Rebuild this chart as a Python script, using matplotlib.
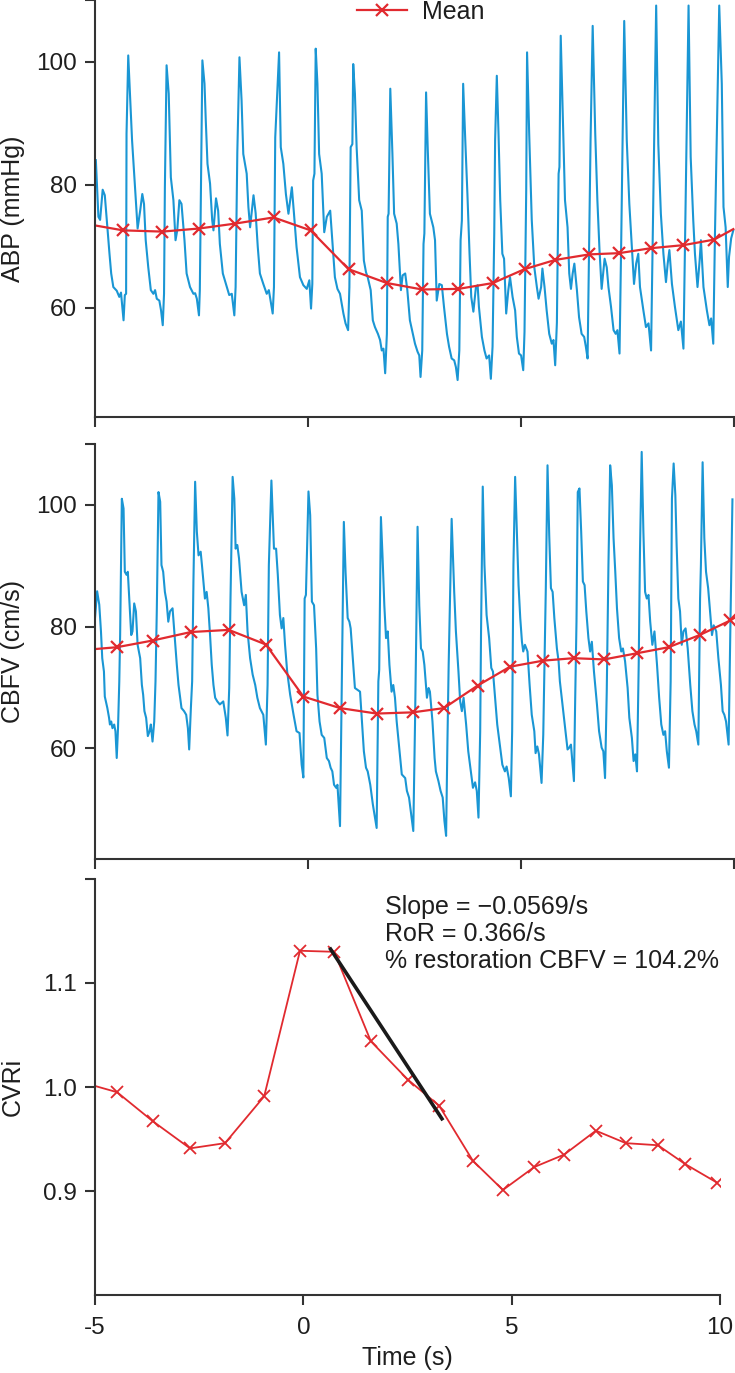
import numpy as np
import matplotlib.pyplot as plt

plt.rcParams['font.family'] = ['Liberation Sans', 'DejaVu Sans']

# ---------------------------------------------------------------------------
# data (time in s)
# ---------------------------------------------------------------------------

abp_t = [-4.98, -4.92, -4.88, -4.82, -4.77, -4.71, -4.66, -4.62, -4.57, -4.49, -4.43, -4.39,
         -4.33, -4.30, -4.27, -4.26, -4.22, -4.18, -4.13, -4.08, -4.04, -4.00, -3.94, -3.89,
         -3.85, -3.81, -3.75, -3.69, -3.63, -3.59, -3.55, -3.49, -3.45, -3.41, -3.38, -3.36,
         -3.32, -3.27, -3.25, -3.22, -3.16, -3.11, -3.07, -3.02, -2.97, -2.90, -2.85, -2.77,
         -2.69, -2.65, -2.61, -2.56, -2.54, -2.51, -2.48, -2.43, -2.40, -2.36, -2.30, -2.25,
         -2.22, -2.16, -2.11, -2.07, -2.00, -1.92, -1.85, -1.79, -1.73, -1.70, -1.66, -1.61,
         -1.56, -1.52, -1.44, -1.40, -1.36, -1.28, -1.23, -1.18, -1.13, -1.05, -0.97, -0.92,
         -0.88, -0.83, -0.80, -0.77, -0.73, -0.68, -0.64, -0.58, -0.52, -0.46, -0.38, -0.33,
         -0.27, -0.19, -0.11, -0.03, 0.03, 0.07, 0.10, 0.12, 0.15, 0.18, 0.22, 0.26,
         0.32, 0.38, 0.44, 0.52, 0.57, 0.63, 0.69, 0.75, 0.83, 0.88, 0.94, 0.97,
         1.00, 1.04, 1.06, 1.10, 1.14, 1.20, 1.26, 1.31, 1.36, 1.40, 1.47, 1.52,
         1.57, 1.64, 1.69, 1.73, 1.77, 1.81, 1.85, 1.87, 1.89, 1.93, 1.98, 2.02,
         2.08, 2.12, 2.18, 2.22, 2.28, 2.33, 2.39, 2.46, 2.51, 2.57, 2.61, 2.64,
         2.68, 2.71, 2.73, 2.77, 2.81, 2.86, 2.94, 2.98, 3.02, 3.08, 3.14, 3.19,
         3.26, 3.31, 3.37, 3.43, 3.47, 3.51, 3.55, 3.58, 3.61, 3.64, 3.69, 3.74,
         3.79, 3.83, 3.88, 3.94, 3.98, 4.01, 4.08, 4.14, 4.19, 4.25, 4.29, 4.33,
         4.37, 4.39, 4.43, 4.47, 4.51, 4.56, 4.60, 4.65, 4.70, 4.74, 4.80, 4.86,
         4.90, 4.95, 5.00, 5.05, 5.08, 5.12, 5.14, 5.19, 5.25, 5.31, 5.37, 5.41,
         5.47, 5.50, 5.55, 5.60, 5.66, 5.72, 5.76, 5.80, 5.84, 5.88, 5.90, 5.93,
         5.98, 6.03, 6.09, 6.13, 6.17, 6.21, 6.25, 6.31, 6.36, 6.42, 6.48, 6.52,
         6.56, 6.60, 6.63, 6.68, 6.74, 6.79, 6.84, 6.89, 6.96, 7.01, 7.05, 7.11,
         7.17, 7.22, 7.26, 7.31, 7.35, 7.38, 7.42, 7.48, 7.54, 7.60, 7.65, 7.70,
         7.75, 7.79, 7.87, 7.93, 7.99, 8.05, 8.09, 8.12, 8.17, 8.22, 8.28, 8.34,
         8.40, 8.44, 8.48, 8.54, 8.61, 8.69, 8.75, 8.81, 8.85, 8.88, 8.93, 8.98,
         9.04, 9.08, 9.14, 9.19, 9.22, 9.28, 9.36, 9.42, 9.46, 9.51, 9.55, 9.59,
         9.65, 9.71, 9.75, 9.80, 9.85, 9.88, 9.93, 9.98]
abp_v = [84.0, 74.8, 74.3, 79.2, 78.3, 73.1, 68.8, 65.6, 63.4, 62.8, 61.8, 62.5,
         58.0, 62.1, 62.3, 88.3, 101.0, 94.8, 87.2, 81.8, 77.5, 72.9, 75.8, 78.5,
         76.9, 71.0, 66.6, 62.9, 62.3, 62.9, 61.5, 61.2, 59.6, 57.2, 62.3, 79.6,
         99.4, 94.8, 89.6, 81.2, 77.5, 71.0, 72.6, 77.5, 76.9, 71.0, 65.6, 63.4,
         62.3, 62.4, 61.5, 58.8, 62.9, 82.1, 100.2, 96.4, 90.4, 83.4, 80.2, 74.3,
         72.6, 77.8, 75.8, 70.4, 65.6, 63.7, 62.1, 62.3, 58.8, 63.4, 85.3, 100.7,
         93.7, 85.0, 81.8, 76.4, 73.1, 78.3, 75.4, 69.9, 65.6, 63.9, 62.3, 62.9,
         61.2, 59.1, 63.4, 87.7, 93.7, 101.5, 86.1, 83.4, 78.5, 75.3, 79.6, 75.3,
         69.9, 65.0, 63.7, 63.1, 64.5, 59.9, 63.9, 80.7, 81.8, 102.1, 96.4, 85.0,
         81.8, 72.3, 74.8, 75.8, 71.0, 65.0, 63.1, 62.3, 59.1, 57.5, 56.4, 63.4,
         86.1, 86.6, 99.6, 94.8, 86.1, 77.5, 75.8, 67.7, 65.8, 65.0, 62.9, 58.0,
         56.9, 55.8, 54.8, 53.1, 53.4, 49.4, 55.8, 74.8, 75.3, 95.6, 85.0, 75.3,
         73.7, 70.4, 62.9, 65.3, 65.6, 62.9, 58.0, 55.8, 54.2, 52.9, 52.3, 48.8,
         53.1, 70.4, 72.1, 95.0, 85.6, 75.3, 73.1, 71.0, 61.2, 63.9, 63.7, 60.2,
         55.8, 53.7, 51.8, 51.5, 50.4, 48.3, 53.1, 71.0, 74.2, 96.4, 87.2, 78.5,
         68.8, 61.8, 59.4, 63.4, 63.7, 60.2, 55.3, 53.1, 51.8, 52.3, 48.5, 53.7,
         72.1, 87.2, 97.7, 88.3, 77.5, 68.8, 68.0, 59.1, 62.9, 65.0, 61.8, 59.6,
         55.3, 52.6, 52.3, 49.9, 56.1, 79.1, 101.5, 88.3, 74.3, 66.6, 63.4, 61.5,
         63.4, 66.4, 63.4, 59.6, 55.8, 54.2, 54.8, 50.7, 57.6, 81.8, 82.9, 104.2,
         91.0, 77.5, 73.1, 65.6, 63.1, 65.6, 67.2, 62.9, 58.5, 55.8, 55.3, 53.7,
         51.8, 72.6, 87.2, 105.8, 88.3, 77.5, 69.4, 63.1, 68.0, 66.6, 63.4, 60.2,
         56.4, 55.8, 56.4, 52.6, 71.0, 86.6, 106.6, 87.2, 76.9, 69.9, 63.9, 67.2,
         68.8, 63.4, 59.6, 56.9, 57.5, 53.1, 72.1, 87.2, 109.1, 86.6, 75.3, 68.8,
         64.2, 67.2, 69.4, 63.9, 60.2, 56.4, 57.8, 53.4, 72.1, 86.1, 109.1, 84.5,
         74.3, 68.8, 63.4, 67.7, 71.0, 63.4, 59.6, 57.2, 58.3, 54.2, 72.1, 86.6,
         109.1, 96.4, 76.4, 73.1, 63.4, 68.3, 71.3, 72.6]

abp_mean_t = [-5.0, -4.34, -3.42, -2.56, -1.71, -0.81, 0.06, 0.95, 1.85, 2.68, 3.53, 4.34,
              5.08, 5.80, 6.60, 7.30, 8.04, 8.81, 9.53, 9.98]
abp_mean_v = [73.4, 72.6, 72.4, 72.9, 73.7, 74.7, 72.6, 66.3, 64.05, 63.0, 63.1, 64.05,
              66.3, 67.8, 68.7, 68.9, 69.7, 70.2, 71.1, 72.8]

cbfv_t = [-5.00, -4.95, -4.90, -4.86, -4.83, -4.79, -4.77, -4.71, -4.67, -4.65, -4.62, -4.59,
          -4.55, -4.52, -4.49, -4.46, -4.43, -4.41, -4.37, -4.33, -4.30, -4.26, -4.23, -4.18,
          -4.15, -4.12, -4.08, -4.04, -4.00, -3.94, -3.90, -3.87, -3.84, -3.80, -3.76, -3.72,
          -3.69, -3.65, -3.61, -3.58, -3.55, -3.51, -3.47, -3.44, -3.40, -3.36, -3.32, -3.28,
          -3.24, -3.18, -3.14, -3.08, -3.04, -3.00, -2.97, -2.91, -2.86, -2.82, -2.79, -2.75,
          -2.72, -2.69, -2.65, -2.61, -2.57, -2.52, -2.49, -2.42, -2.38, -2.34, -2.30, -2.26,
          -2.22, -2.18, -2.13, -2.07, -1.99, -1.93, -1.89, -1.85, -1.82, -1.77, -1.73, -1.70,
          -1.66, -1.62, -1.56, -1.50, -1.46, -1.42, -1.36, -1.30, -1.24, -1.19, -1.13, -1.05,
          -0.99, -0.95, -0.92, -0.86, -0.83, -0.80, -0.75, -0.71, -0.66, -0.62, -0.58, -0.54,
          -0.49, -0.42, -0.34, -0.27, -0.20, -0.15, -0.11, -0.08, -0.05, 0.01, 0.05, 0.09,
          0.14, 0.19, 0.22, 0.27, 0.32, 0.38, 0.44, 0.49, 0.53, 0.57, 0.61, 0.66,
          0.69, 0.75, 0.78, 0.81, 0.84, 0.88, 0.93, 0.97, 1.00, 1.05, 1.10, 1.16,
          1.22, 1.26, 1.31, 1.36, 1.40, 1.46, 1.52, 1.61, 1.65, 1.67, 1.71, 1.75,
          1.79, 1.83, 1.87, 1.91, 1.96, 2.00, 2.04, 2.08, 2.14, 2.20, 2.28, 2.32,
          2.37, 2.42, 2.47, 2.51, 2.54, 2.57, 2.61, 2.65, 2.69, 2.73, 2.79, 2.83,
          2.86, 2.92, 2.97, 3.00, 3.06, 3.11, 3.16, 3.20, 3.24, 3.27, 3.30, 3.37,
          3.43, 3.47, 3.53, 3.57, 3.61, 3.65, 3.71, 3.76, 3.82, 3.87, 3.92, 3.96,
          4.00, 4.04, 4.06, 4.10, 4.14, 4.19, 4.25, 4.30, 4.34, 4.39, 4.44, 4.51,
          4.56, 4.62, 4.66, 4.71, 4.76, 4.79, 4.82, 4.86, 4.90, 4.94, 4.98, 5.02,
          5.05, 5.09, 5.15, 5.20, 5.25, 5.31, 5.34, 5.38, 5.42, 5.48, 5.52, 5.58,
          5.62, 5.66, 5.70, 5.74, 5.78, 5.84, 5.88, 5.91, 5.98, 6.03, 6.09, 6.13,
          6.17, 6.24, 6.27, 6.30, 6.33, 6.37, 6.41, 6.45, 6.49, 6.53, 6.58, 6.62,
          6.66, 6.71, 6.78, 6.83, 6.89, 6.93, 6.97, 7.01, 7.05, 7.09, 7.13, 7.17,
          7.21, 7.25, 7.30, 7.35, 7.39, 7.44, 7.50, 7.54, 7.60, 7.64, 7.68, 7.72,
          7.76, 7.79, 7.83, 7.87, 7.91, 7.95, 7.99, 8.03, 8.08, 8.13, 8.19, 8.24,
          8.29, 8.34, 8.38, 8.42, 8.47, 8.51, 8.54, 8.58, 8.62, 8.65, 8.69, 8.73,
          8.77, 8.81, 8.86, 8.91, 8.97, 9.02, 9.07, 9.11, 9.16, 9.20, 9.22, 9.26,
          9.30, 9.34, 9.39, 9.44, 9.48, 9.52, 9.58, 9.63, 9.69, 9.73, 9.77, 9.81,
          9.87, 9.91, 9.96]
cbfv_v = [81.4, 85.8, 83.6, 79.2, 74.8, 72.6, 68.5, 66.6, 65.0, 63.9, 64.4, 63.3,
          63.9, 62.8, 58.4, 63.3, 71.0, 78.6, 101.0, 99.4, 89.0, 88.5, 89.0, 82.5,
          78.6, 79.2, 83.8, 82.5, 77.0, 74.8, 70.4, 68.8, 66.1, 65.0, 62.0, 62.8,
          63.9, 61.1, 64.4, 71.0, 82.5, 102.1, 100.5, 90.1, 89.0, 85.7, 84.1, 80.8,
          82.5, 83.0, 79.2, 73.7, 70.4, 68.3, 66.6, 66.1, 65.5, 63.3, 59.8, 66.6,
          71.0, 87.4, 103.8, 95.6, 91.7, 92.3, 90.1, 84.6, 85.7, 83.0, 78.6, 73.7,
          70.4, 68.3, 67.7, 67.2, 67.7, 65.0, 62.1, 69.9, 84.6, 104.6, 101.0, 92.8,
          93.4, 91.2, 85.7, 83.5, 85.2, 79.2, 74.8, 72.1, 70.4, 68.3, 66.6, 65.5,
          60.6, 70.4, 90.1, 104.0, 98.3, 92.8, 92.8, 88.5, 81.9, 79.7, 81.4, 77.0,
          72.6, 68.8, 65.5, 62.8, 62.5, 57.3, 55.2, 84.6, 85.2, 102.2, 98.3, 84.1,
          83.5, 76.4, 68.8, 64.4, 62.2, 61.7, 58.4, 57.9, 56.8, 56.2, 54.0, 53.5,
          54.0, 47.2, 63.9, 79.2, 97.2, 89.0, 81.4, 80.8, 79.7, 74.8, 69.9, 69.6,
          69.3, 65.0, 59.5, 56.8, 56.2, 54.0, 50.8, 46.9, 71.0, 72.9, 98.0, 91.2,
          83.5, 78.1, 79.2, 73.7, 69.3, 70.4, 68.3, 64.4, 60.1, 55.7, 55.1, 53.0,
          51.9, 49.1, 46.4, 63.9, 79.2, 96.4, 83.5, 76.4, 75.9, 73.7, 68.3, 69.9,
          69.3, 64.4, 58.4, 56.2, 54.6, 53.0, 51.9, 48.1, 45.6, 60.6, 73.7, 97.7,
          85.7, 79.2, 72.6, 67.7, 66.1, 68.3, 63.9, 59.5, 56.2, 53.5, 54.4, 53.0,
          48.6, 62.8, 79.2, 103.0, 90.1, 81.9, 78.1, 73.2, 72.6, 68.3, 63.9, 60.1,
          57.3, 56.2, 57.0, 55.1, 52.1, 62.8, 90.1, 104.6, 95.6, 86.8, 81.4, 77.5,
          75.9, 77.0, 75.9, 70.4, 65.5, 62.8, 59.2, 60.3, 59.0, 54.3, 62.2, 86.3,
          106.5, 95.0, 86.3, 85.7, 81.4, 76.4, 74.3, 71.0, 66.6, 63.3, 59.8, 60.1,
          60.6, 54.6, 68.3, 80.8, 102.1, 102.7, 95.6, 87.4, 86.8, 82.5, 78.1, 75.9,
          77.5, 72.6, 67.2, 62.8, 60.1, 59.5, 55.1, 69.3, 90.1, 106.5, 103.2, 94.5,
          89.0, 83.0, 78.1, 75.9, 76.4, 74.3, 69.9, 65.0, 61.7, 57.9, 59.0, 56.2,
          73.7, 92.3, 108.7, 95.6, 85.7, 84.6, 85.2, 80.8, 77.0, 79.2, 73.7, 68.3,
          63.9, 62.2, 62.8, 59.5, 56.8, 71.0, 101.0, 106.8, 101.6, 93.4, 84.6, 82.5,
          77.0, 79.2, 79.7, 76.4, 70.4, 66.1, 63.9, 62.8, 60.6, 84.6, 90.1, 107.0,
          94.5, 89.0, 86.3, 81.9, 78.6, 80.2, 79.2, 74.8, 70.4, 66.1, 65.5, 64.4,
          60.6, 79.2, 100.9]

cbfv_mean_t = [-5.0, -4.49, -3.65, -2.75, -1.86, -0.99, -0.11, 0.75, 1.61, 2.46, 3.19, 3.98,
               4.74, 5.52, 6.23, 6.95, 7.71, 8.46, 9.19, 9.91, 10.0]
cbfv_mean_v = [76.3, 76.6, 77.7, 79.1, 79.45, 77.05, 68.5, 66.6, 65.7, 65.9, 66.6, 70.3,
               73.4, 74.4, 74.8, 74.6, 75.6, 76.6, 78.6, 81.0, 81.4]

cvri_t = [-5.0, -4.47, -3.61, -2.72, -1.88, -0.94, -0.08, 0.74, 1.62, 2.51, 3.26, 4.07,
          4.79, 5.54, 6.26, 7.02, 7.74, 8.51, 9.16, 9.93]
cvri_v = [1.001, 0.995, 0.967, 0.941, 0.946, 0.991, 1.131, 1.130, 1.044, 1.007, 0.982, 0.929,
          0.901, 0.923, 0.935, 0.958, 0.946, 0.944, 0.926, 0.908]

fit_t = [0.63, 3.35]
fit_v = [1.134, 0.968]

stats = ['Slope = \u22120.0569/s', 'RoR = 0.366/s', '% restoration CBFV = 104.2%']

'''############################################################################
   Figure
#############################################################################'''

blue = '#1a96d4'
red = '#e12a2f'
axcol = '#333333'
txtcol = '#1e1e1e'
fs = 18

fig = plt.figure(figsize=(7.35, 13.73), dpi=100)
ax1 = fig.add_axes([95/735, 956/1373, 640/735, 417/1373])
ax2 = fig.add_axes([95/735, 514/1373, 640/735, 415/1373])
ax3 = fig.add_axes([95/735, 78/1373, 625/735, 416/1373])

for ax in (ax1, ax2, ax3):
    for s in ('top', 'right'):
        ax.spines[s].set_visible(False)
    for s in ('left', 'bottom'):
        ax.spines[s].set_color(axcol)
        ax.spines[s].set_linewidth(1.5)
    ax.tick_params(direction='out', length=7, width=1.5, color=axcol,
                   labelsize=17.5, pad=6, labelcolor=txtcol)
ax3.tick_params(axis='x', pad=9)

# ABP
ax1.plot(abp_t, abp_v, color=blue, lw=1.5)
ax1.plot(abp_mean_t, abp_mean_v, color=red, lw=1.6, marker='x', ms=8, mew=1.6,
         markevery=list(range(1, len(abp_mean_t)-1)), label='Mean')
ax1.set_xlim(-5, 10.02)
ax1.set_ylim(42.3, 110)
ax1.set_xticks([-5, 0, 5, 10])
ax1.set_xticklabels([])
ax1.set_yticks([60, 80, 100, 110])
ax1.set_yticklabels(['60', '80', '100', ''])
ax1.set_ylabel('ABP (mmHg)', fontsize=fs, color=txtcol)
ax1.yaxis.set_label_coords((25-95)/640, 0.5)
leg = ax1.legend(loc='center left', bbox_to_anchor=((357-95)/640, 1-12/417), frameon=False,
                 borderpad=0, borderaxespad=0, handlelength=2.0, handletextpad=0.6,
                 numpoints=1, fontsize=fs)
for t in leg.get_texts():
    t.set_color(txtcol)

# CBFV
ax2.plot(cbfv_t, cbfv_v, color=blue, lw=1.5)
ax2.plot(cbfv_mean_t, cbfv_mean_v, color=red, lw=1.6, marker='x', ms=8, mew=1.6,
         markevery=list(range(1, len(cbfv_mean_t)-1)))
ax2.set_xlim(-5, 10.02)
ax2.set_ylim(41.8, 110)
ax2.set_xticks([-5, 0, 5, 10])
ax2.set_xticklabels([])
ax2.set_yticks([60, 80, 100, 110])
ax2.set_yticklabels(['60', '80', '100', ''])
ax2.set_ylabel('CBFV (cm/s)', fontsize=fs, color=txtcol)
ax2.yaxis.set_label_coords((25-95)/640, 0.5)

# CVRi
ax3.plot(cvri_t, cvri_v, color=red, lw=1.3, marker='x', ms=8, mew=1.3,
         markevery=list(range(1, len(cvri_t))))
ax3.plot(fit_t, fit_v, color='#1a1a1a', lw=2.6, solid_capstyle='butt')
ax3.set_xlim(-5, 10)
ax3.set_ylim(0.8, 1.2)
ax3.set_xticks([-5, 0, 5, 10])
ax3.set_xticklabels(['-5', '0', '5', '10'])
ax3.set_yticks([0.9, 1.0, 1.1, 1.2])
ax3.set_yticklabels(['0.9', '1.0', '1.1', ''])
ax3.set_ylabel('CVRi', fontsize=fs, color=txtcol)
ax3.yaxis.set_label_coords((25-95)/625, 0.5)
ax3.set_xlabel('Time (s)', fontsize=fs, color=txtcol, va='bottom')
ax3.xaxis.set_label_coords(0.5, (1295-1370)/416)
ax3.text((385-95)/625, 0.962, '\n'.join(stats), transform=ax3.transAxes,
         fontsize=fs, va='top', ha='left', linespacing=1.15, color=txtcol)

plt.savefig('out.png', dpi=100)
plt.close()
